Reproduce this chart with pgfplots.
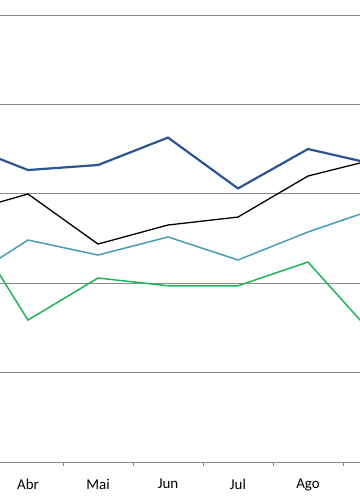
\documentclass[border=0pt]{standalone}
\usepackage{pgfplots}
\pgfplotsset{compat=1.18}
\usepackage{fontspec}
\setmainfont{Carlito}
\definecolor{cblue}{HTML}{2B5591}
\definecolor{cteal}{HTML}{4A9BB5}
\definecolor{cgreen}{HTML}{1EB45A}
\definecolor{cgrid}{HTML}{8A8A8A}
\begin{document}
\begin{tikzpicture}
\begin{axis}[
  at={(0,0)}, anchor=south west,
  scale only axis, width=360bp, height=462bp,
  xmin=0.6, xmax=5.743, ymin=0, ymax=51.68,
  axis x line*=bottom, axis y line*=left,
  x axis line style={cgrid, line width=1bp},
  y axis line style={draw=none},
  xtick={1,2,3,4,5,6},
  xticklabels={Abr,Mai,Jun,Jul,Ago,Set},
  major x tick style={draw=none},
  minor xtick={0.5,1.5,2.5,3.5,4.5,5.5,6.5},
  minor x tick style={cgrid, line width=0.8bp},
  minor tick length=4bp,
  tick align=outside,
  xticklabel style={font=\fontsize{15}{16}\selectfont, yshift=-9bp},
  ytick={0,10,20,30,40,50},
  yticklabels={},
  major y tick style={draw=none},
  ymajorgrids,
  major y grid style={cgrid, line width=1bp},
  clip=true,
]
\addplot[cblue, line width=2.2bp] coordinates {(0,35.74) (1,32.66) (2,33.22) (3,36.29) (4,30.60) (5,35.01) (6,33.22)};
\addplot[black, line width=1.3bp] coordinates {(0,27.74) (1,29.98) (2,24.38) (3,26.51) (4,27.40) (5,31.99) (6,33.95)};
\addplot[cteal, line width=1.5bp] coordinates {(0,19.80) (1,24.83) (2,23.15) (3,25.17) (4,22.60) (5,25.73) (6,28.41)};
\addplot[cgreen, line width=1.5bp] coordinates {(0,28.41) (1,15.88) (2,20.58) (3,19.71) (4,19.71) (5,22.37) (6,13.65)};
\end{axis}
\pgfresetboundingbox
\path (0,-42bp) rectangle (360bp,462bp);
\end{tikzpicture}
\end{document}
